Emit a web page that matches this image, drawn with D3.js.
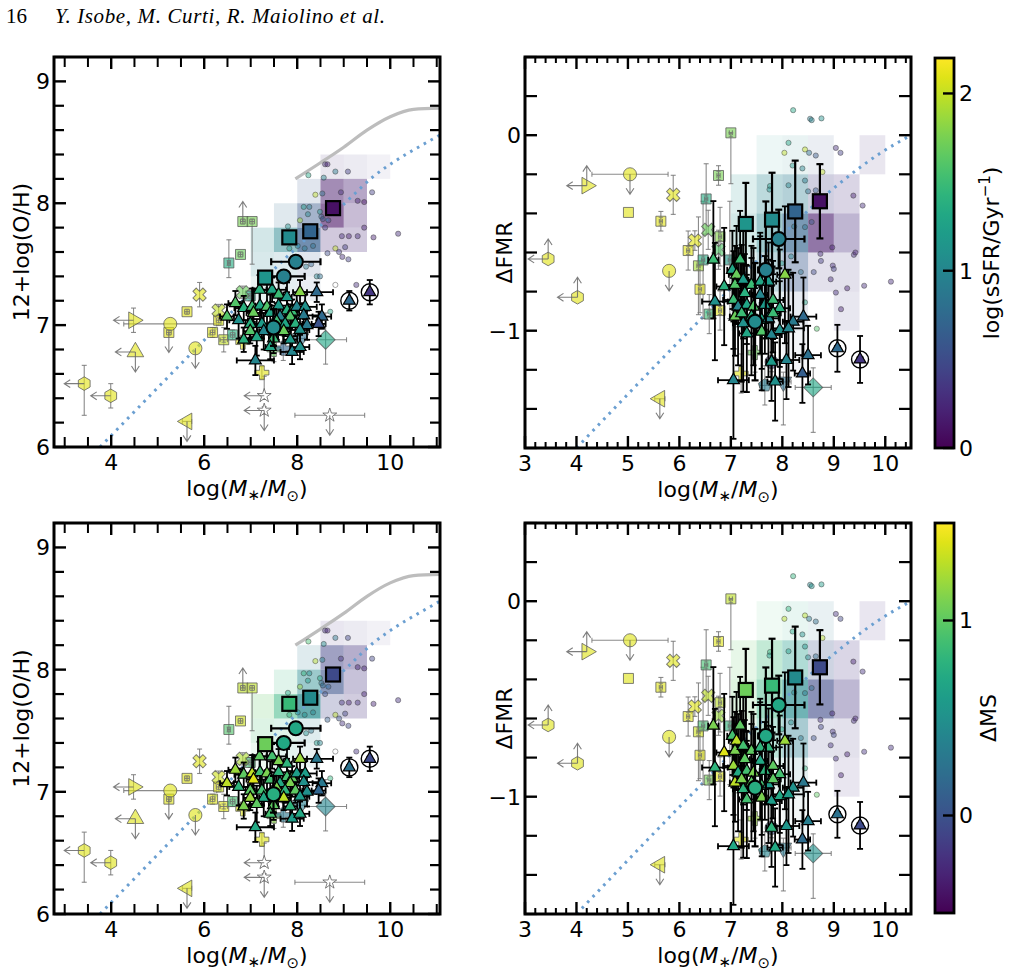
<!DOCTYPE html>
<html><head><meta charset="utf-8">
<script src="https://cdn.jsdelivr.net/npm/d3@7"></script>
<style>body{margin:0;background:#fff}svg{display:block}text{font-family:"DejaVu Sans",sans-serif;fill:#000}text.serif{font-family:"Liberation Serif","Times New Roman",serif}</style>
</head><body><script>
// ---------------- DATA ----------------
// binned background sample (bin size 0.5 dex in mass, 0.2 dex in y)
const metBin_x0=[8.5,9.0,9.5,8.0,8.5,9.0,7.5,8.0,8.5,9.0,7.0,7.5,8.0,8.5,9.0,7.0,7.5,8.0,7.0,7.5,8.0];
const metBin_y0=[8.2,8.2,8.2,8.0,8.0,8.0,7.8,7.8,7.8,7.8,7.6,7.6,7.6,7.6,7.6,7.4,7.4,7.4,7.2,7.2,7.2];
const metBin_a =[.12,.10,.07,.15,.5,.4,.15,.45,.6,.3,.2,.5,.7,.25,.25,.18,.15,.15,.1,.12,.1];
const metBin_cS=[0.3,0.35,0.35,0.6,0.15,0.2,0.75,0.6,0.1,0.2,1.0,1.0,0.65,0.25,0.25,1.0,0.9,0.6,1.0,0.8,0.6];
const metBin_cM=[-0.2,-0.15,-0.15,0.3,-0.1,-0.2,0.8,0.45,0.0,-0.2,1.0,0.8,0.45,-0.1,-0.2,0.9,0.8,0.4,0.9,0.7,0.4];

const fmrBin_x0=[7.5,8.0,8.5,9.5,7.0,7.5,8.0,8.5,9.0,7.0,7.5,8.0,8.5,9.0,7.0,7.5,8.0,8.5,9.0,7.0,7.5,8.0,9.0,8.0];
const fmrBin_y0=[-0.2,-0.2,-0.2,-0.2,-0.4,-0.4,-0.4,-0.4,-0.4,-0.6,-0.6,-0.6,-0.6,-0.6,-0.8,-0.8,-0.8,-0.8,-0.8,-1.0,-1.0,-1.0,-1.0,-1.2];
const fmrBin_a =[.08,.1,.1,.12,.15,.3,.35,.25,.2,.2,.45,.65,.6,.35,.12,.3,.4,.15,.15,.08,.12,.12,.12,.06];
const fmrBin_cS=[1.2,1.0,0.6,0.3,1.1,1.0,0.9,0.4,0.3,1.1,1.0,0.7,0.15,0.3,1.1,0.9,0.6,0.35,0.35,1.1,0.9,0.6,0.35,0.6];
const fmrBin_cM=[0.9,0.7,0.3,-0.2,1.0,0.85,0.6,0.0,-0.2,1.0,0.8,0.45,-0.05,-0.2,1.0,0.7,0.35,-0.1,-0.2,0.9,0.7,0.4,-0.2,0.4];

// relations
const mzr_x=[7.96,8.49,9.0,9.5,10.0,10.5,11.07];
const mzr_y=[8.20,8.33,8.46,8.60,8.71,8.77,8.78];
const metLine_x=[3.76,6.06,7.56,9.05,9.64,10.12,10.65,11.07];
const metLine_y=[6.00,6.90,7.48,8.01,8.22,8.35,8.47,8.56];
const fmrLine_x=[4.0,6.27,8.99,9.54,9.88,10.5];
const fmrLine_y=[-1.6,-0.98,-0.273,-0.159,-0.096,0.0];

// small background galaxies
const metDot_x=[8.60,8.65,8.82,9.09,8.24,8.57,8.39,8.54,8.94,9.30,9.44,9.61,8.14,8.26,8.49,8.52,8.55,8.67,8.60,8.96,9.11,9.30,9.64,10.17,7.80,8.06,8.23,9.44,9.03,8.82,8.65,8.90,8.97,9.10,8.34,7.83,8.01,8.16,8.19,8.30,8.42,8.49,8.82,9.27,8.71];
const metDot_y=[8.32,8.32,8.26,8.26,8.23,8.21,8.07,8.08,8.09,8.02,8.01,8.09,7.97,7.97,7.93,7.89,7.87,7.86,7.80,7.73,7.73,7.73,7.72,7.75,7.81,7.86,7.91,7.80,7.64,7.63,7.59,7.60,7.56,7.54,7.65,7.63,7.65,7.63,7.48,7.50,7.40,7.40,7.33,7.33,7.11];
const metDot_cS=[0.3,0.2,0.9,0.4,1.3,1.0,2.0,0.8,0.3,0.2,0.1,0.4,1.2,0.9,1.1,0.7,0.6,0.5,0.4,0.3,0.2,0.3,0.2,0.3,1.1,1.9,1.0,0.2,0.4,2.0,0.5,0.4,0.3,0.4,0.8,1.2,1.0,0.9,0.9,0.7,1.0,0.8,null,0.3,1.3];
const metDot_cM=[-0.2,-0.3,0.3,-0.1,0.9,0.5,1.3,0.4,-0.2,-0.3,-0.3,-0.1,0.8,0.5,0.7,0.3,0.2,0.1,0.0,-0.2,-0.3,-0.2,-0.3,-0.2,0.7,1.2,0.6,-0.3,-0.1,1.3,0.1,0.0,-0.2,-0.1,0.4,0.8,0.6,0.5,0.5,0.3,0.6,0.4,null,-0.2,0.8];

const fmrDot_x=[8.21,8.54,8.57,8.76,8.12,8.04,8.44,8.52,8.65,9.04,9.13,8.20,8.39,8.78,7.76,8.12,8.44,8.50,8.65,9.38,9.56,8.97,9.39,9.42,8.98,9.00,8.61,8.94,9.26,9.59,10.11,9.14,9.04,8.44,8.67,8.36,8.23,8.44,8.57,7.97,8.17,8.75,8.74,7.99,7.59,7.75,8.12];
const fmrDot_y=[0.128,0.084,0.077,0.086,-0.039,-0.09,-0.073,-0.09,-0.104,-0.065,-0.09,-0.155,-0.17,-0.188,-0.26,-0.256,-0.232,-0.287,-0.282,-0.309,-0.36,-0.574,-0.612,-0.60,-0.667,-0.684,-0.70,-0.737,-0.783,-0.77,-0.749,-0.89,-0.805,-0.855,-0.99,-0.70,-0.467,-0.47,-0.444,-0.555,-0.62,-0.643,-0.607,-0.655,-0.672,-0.278,-0.70];
const fmrDot_cS=[1.3,0.9,1.0,1.1,1.3,2.0,2.0,0.8,0.6,0.3,0.4,1.2,1.0,2.0,1.2,1.0,0.9,0.8,0.6,0.2,0.3,0.2,0.3,0.2,0.3,0.4,0.5,0.3,0.2,0.3,0.3,0.2,0.3,1.3,1.6,0.8,0.9,0.8,0.6,1.1,1.0,0.4,0.3,1.2,1.3,1.1,1.1];
const fmrDot_cM=[0.8,0.4,0.5,0.6,0.8,1.3,1.3,0.3,0.2,-0.2,-0.1,0.7,0.5,1.3,0.8,0.6,0.5,0.4,0.2,-0.3,-0.2,-0.3,-0.2,-0.3,-0.2,-0.1,0.0,-0.2,-0.3,-0.2,-0.2,-0.3,-0.2,0.8,1.0,0.3,0.4,0.3,0.2,0.7,0.5,-0.1,-0.2,0.7,0.8,0.6,0.6];

// literature compilation
const metLit_shape=["square","square","square","square","square","square","square","square","square","square","square","cross","cross","cross","plus","plus","plus","plus","diamond","triD","circle","circle","triR","tri","hexagon","hexagon","triL","star","star","star"];
const metLit_x=[6.83,7.03,6.78,6.53,5.63,6.31,6.18,6.42,6.61,5.24,6.99,5.90,6.31,6.83,6.83,7.24,7.50,7.70,8.61,8.07,5.27,5.81,4.48,4.52,3.42,3.99,5.63,7.29,7.29,8.70];
const metLit_y=[7.85,7.85,7.58,7.51,7.11,7.04,6.94,6.88,6.92,6.94,7.24,7.25,7.12,7.27,6.86,6.61,6.80,6.81,6.88,6.89,7.01,6.81,7.04,6.78,6.52,6.42,6.21,6.42,6.30,6.26];
const metLit_xe=[.05,.05,.05,.03,.05,.05,.05,.08,.05,.05,.05,0,0,0,0,0,0,0,.45,.15,1.0,0,0,0,0,0,.1,0,0,.75];
const metLit_yeLo=[.02,.35,.02,.12,.02,.04,.04,.1,.04,.02,.04,.1,.05,.05,0,.05,.1,.1,.2,.1,0,0,.1,0,.26,.1,0,.03,.03,0];
const metLit_yeHi=[.02,.02,.02,.19,.02,.04,.04,.1,.04,.02,.04,.1,.05,.05,0,.05,.1,.1,.22,.1,0,0,.1,0,.15,.1,0,.16,.03,0];
const metLit_cS=[1.75,1.75,1.7,1.35,2.1,2.1,2.1,2.0,1.4,2.1,1.3,2.1,2.0,1.7,2.1,2.1,1.7,0.7,1.3,0.8,2.1,2.1,2.1,2.1,2.1,2.1,2.1,null,null,null];
const metLit_cM=[1.3,1.3,1.35,0.95,1.4,1.4,1.4,1.4,0.9,1.4,0.9,1.4,1.35,1.25,1.4,1.4,1.15,0.3,0.4,0.35,1.4,1.4,1.4,1.4,1.4,1.4,1.4,null,null,null];
const metLit_lim=["U","","","","","","","","","D","","","","","","","","","","","","D","L","LD","L","L","D","L","LD","D"];

const fmrLit_shape=["triR","circle","cross","square","square","square","square","square","cross","cross","square","square","cross","square","square","square","square","square","square","hexagon","hexagon","circle","triL","plus","plus","diamond","pentagon","triD","circle"];
const fmrLit_x=[4.20,5.04,5.88,5.01,5.64,6.76,7.00,6.52,6.56,6.30,6.17,6.79,6.76,6.37,6.46,6.98,6.40,6.58,6.79,3.45,4.02,5.80,5.62,7.20,7.47,8.60,7.66,8.02,7.79];
const fmrLit_y=[-0.258,-0.20,-0.305,-0.395,-0.44,-0.206,0.012,-0.326,-0.484,-0.539,-0.59,-0.519,-0.586,-0.668,-0.638,-0.638,-0.788,-0.915,-0.897,-0.633,-0.829,-0.694,-1.348,-1.219,-1.112,-1.29,-1.28,-1.262,-1.16];
const fmrLit_xe=[0,.74,0,0,.03,.03,.03,.03,0,0,.03,.03,0,.03,.03,.03,.03,.03,.03,0,0,0,.1,0,0,.35,.1,.15,.05];
const fmrLit_yeLo=[0,0,.1,0,.05,.05,.26,.18,.1,.05,.1,.15,.1,.25,.3,.3,.12,.1,.1,0,0,0,0,.1,.1,.23,.1,.22,.05];
const fmrLit_yeHi=[0,0,.1,0,.05,.05,0,.18,.1,.05,.1,.15,.1,.25,.3,.3,.12,.1,.1,0,0,0,0,.1,.1,.1,.1,.05,.05];
const fmrLit_cS=[2.1,2.1,2.1,2.1,2.1,1.75,1.75,1.35,1.7,2.1,2.1,1.8,1.6,1.9,1.35,1.2,2.1,1.5,2.1,2.1,2.1,2.1,2.1,2.1,1.7,1.3,0.9,0.8,0.4];
const fmrLit_cM=[1.4,1.4,1.4,1.4,1.4,1.4,1.3,0.9,1.3,1.4,1.4,1.3,1.2,1.35,0.9,0.8,1.4,1.1,1.4,1.4,1.4,1.4,1.4,1.4,1.2,0.5,0.4,0.3,0.0];
const fmrLit_lim=["LU","D","","","","","","","","","","","","","","","","","","LU","LU","D","D","","","","","",""];

// JWST galaxies (triangles)
const metTri_x=[7.19,7.46,7.60,7.78,8.06,8.42,6.67,6.85,7.03,7.20,7.35,7.60,7.78,7.89,7.99,8.17,7.06,7.42,7.63,7.85,8.14,8.53,6.74,6.99,7.24,7.56,7.74,7.96,8.21,8.46,6.99,7.28,7.71,8.06,6.85,7.13,7.49,7.85,7.42,7.89,7.10,8.06,6.49];
const metTri_y=[7.29,7.29,7.25,7.23,7.27,7.27,7.18,7.14,7.15,7.16,7.15,7.16,7.12,7.11,7.15,7.15,7.10,7.10,7.07,7.07,7.08,7.07,7.04,7.01,7.01,7.03,7.01,7.01,7.00,7.01,6.95,6.95,6.95,6.96,6.88,6.90,6.89,6.88,6.82,6.78,6.71,6.82,7.07];
const metTri_xe=[.15,.3,.1,.1,.15,.35,.15,.2,.2,.1,.1,.2,.1,.15,.2,.25,.15,.1,.15,.1,.35,.2,.2,.1,.2,.1,.15,.15,.2,.15,.15,.1,.15,.2,.1,.15,.1,.15,.1,.25,.4,.2,.15];
const metTri_ye=[.12,.1,.1,.12,.1,.08,.1,.1,.15,.15,.2,.12,.15,.1,.1,.1,.2,.15,.15,.1,.1,.1,.15,.12,.12,.15,.1,.1,.12,.1,.1,.15,.1,.12,.1,.15,.12,.12,.1,.1,.12,.1,.1];
const metTri_cS=[1.4,1.3,1.5,1.2,1.8,0.75,1.6,1.4,1.5,1.3,1.6,1.2,1.4,1.5,1.0,1.1,1.7,1.3,1.0,1.6,0.9,0.75,1.1,1.4,1.2,1.5,1.3,1.4,0.9,0.55,1.6,1.0,1.7,1.1,1.4,1.3,1.5,1.2,1.3,1.0,1.0,1.1,1.6];
const metTri_cM=[1.0,0.9,1.1,0.8,1.2,0.3,1.2,1.0,1.3,0.9,1.1,0.8,0.9,1.0,0.6,0.6,1.4,0.9,0.7,1.1,0.5,0.3,0.8,1.0,0.9,1.1,0.8,1.0,0.5,0.15,1.2,0.7,1.3,0.6,1.1,1.0,1.0,0.8,0.9,0.6,0.7,0.7,1.3];

const fmrTri_x=[6.66,7.18,7.03,7.11,6.87,7.08,7.24,7.40,7.57,7.73,7.27,7.57,7.82,8.05,6.69,7.05,7.14,7.31,7.44,7.66,7.95,7.08,7.24,7.40,7.60,7.73,7.82,8.21,8.41,7.95,8.12,7.60,7.79,7.31,7.21,8.08,8.50,8.39,7.05,7.86,7.79];
const fmrTri_y=[-0.637,-0.637,-0.689,-0.714,-0.774,-0.766,-0.740,-0.766,-0.749,-0.749,-0.808,-0.817,-0.843,-0.714,-0.851,-0.843,-0.877,-0.868,-0.877,-0.868,-0.885,-0.928,-0.962,-0.928,-0.945,-0.937,-0.911,-0.954,-0.928,-0.997,-0.988,-1.005,-1.022,-1.014,-0.911,-1.15,-1.125,-1.219,-1.253,-1.26,-1.159];
const fmrTri_xe=[.1,.1,.1,.15,.15,.2,.1,.15,.2,.15,.1,.15,.2,.15,.25,.2,.1,.15,.15,.1,.2,.1,.2,.1,.15,.2,.15,.2,.25,.15,.3,.1,.2,.15,.1,.25,.25,.15,.3,.15,.1];
const fmrTri_ye=[.3,.25,.2,.25,.3,.2,.3,.2,.25,.2,.2,.3,.2,.35,.3,.25,.3,.2,.3,.25,.3,.2,.35,.3,.25,.3,.2,.25,.2,.25,.3,.3,.25,.3,.35,.2,.15,.15,.3,.2,.2];
const fmrTri_cS=[1.5,1.5,1.3,1.7,1.4,1.6,1.2,1.5,1.3,1.2,1.4,1.0,1.5,1.8,1.1,1.5,1.0,1.3,1.6,1.2,1.4,1.7,1.1,1.4,1.3,1.0,1.5,0.9,0.75,1.1,1.0,1.6,1.0,1.3,1.5,1.0,0.8,0.65,1.0,1.1,1.2];
const fmrTri_cM=[1.1,1.0,0.9,1.3,1.4,1.1,0.9,1.0,0.8,0.8,1.0,0.7,1.0,1.2,0.8,1.2,0.7,0.9,1.1,0.8,0.9,1.3,0.8,1.0,0.9,0.6,1.0,0.5,0.3,0.7,0.6,1.1,0.6,0.9,1.1,0.55,0.35,0.2,0.7,0.7,0.8];

// circled (AGN-like) objects
const metRing_x=[9.12,9.56], metRing_y=[7.20,7.27], metRing_xe=[.05,.05], metRing_ye=[.08,.1];
const fmrRing_x=[9.07,9.51], fmrRing_y=[-1.09,-1.147], fmrRing_xe=[.05,.05], fmrRing_ye=[.12,.12];
const ring_cS=[0.75,0.35], ring_cM=[0.25,-0.05];

// stacks
const metSq_x=[7.31,7.83,8.28,8.77], metSq_y=[7.39,7.72,7.77,7.96], metSq_xe=[.07,.07,.07,.07], metSq_ye=[.02,.02,.02,.02];
const fmrSq_x=[7.29,7.80,8.25,8.73], fmrSq_y=[-0.454,-0.432,-0.39,-0.338], fmrSq_xe=[.06,.06,.06,.06], fmrSq_ye=[.21,.24,.26,.19];
const sq_cS=[1.15,1.05,0.7,0.1], sq_cM=[1.05,0.85,0.45,-0.05];
const metCi_x=[7.97,7.71,7.49], metCi_y=[7.52,7.40,6.98], metCi_xe=[.53,.45,.12], metCi_ye=[.03,.04,.15];
const fmrCi_x=[7.93,7.68,7.47], fmrCi_y=[-0.531,-0.689,-0.954], fmrCi_xe=[.5,.15,.1], fmrCi_ye=[.15,.35,.3];
const ci_cS=[0.95,0.95,1.05], ci_cM=[0.7,0.7,0.75];

// ticks
const metXMajor=[4,6,8,10], fmrXMajor=[3,4,5,6,7,8,9,10];
const metYMajor=[6,7,8,9], fmrYMajor=[-1,0];
const cbTopTicks=[0,1,2], cbBotTicks=[0,1];

// ---------------- DRAWING ----------------
const BIN_W=0.5, BIN_H=0.2;
const svg=d3.select("body").append("svg").attr("width",1011).attr("height",976);
const cTop=d3.scaleSequential(d3.interpolateViridis).domain([0,2.2]);
const cBot=d3.scaleSequential(d3.interpolateViridis).domain([-0.5,1.5]);

const MET={bin:{x0:metBin_x0,y0:metBin_y0,a:metBin_a,S:metBin_cS,M:metBin_cM},
  dot:{x:metDot_x,y:metDot_y,S:metDot_cS,M:metDot_cM},
  lit:{shape:metLit_shape,x:metLit_x,y:metLit_y,xe:metLit_xe,lo:metLit_yeLo,hi:metLit_yeHi,S:metLit_cS,M:metLit_cM,lim:metLit_lim},
  tri:{x:metTri_x,y:metTri_y,xe:metTri_xe,ye:metTri_ye,S:metTri_cS,M:metTri_cM},
  ring:{x:metRing_x,y:metRing_y,xe:metRing_xe,ye:metRing_ye,S:ring_cS,M:ring_cM},
  sq:{x:metSq_x,y:metSq_y,xe:metSq_xe,ye:metSq_ye,S:sq_cS,M:sq_cM},
  ci:{x:metCi_x,y:metCi_y,xe:metCi_xe,ye:metCi_ye,S:ci_cS,M:ci_cM},
  line:{x:metLine_x,y:metLine_y}, curve:{x:mzr_x,y:mzr_y}};
const FMR={bin:{x0:fmrBin_x0,y0:fmrBin_y0,a:fmrBin_a,S:fmrBin_cS,M:fmrBin_cM},
  dot:{x:fmrDot_x,y:fmrDot_y,S:fmrDot_cS,M:fmrDot_cM},
  lit:{shape:fmrLit_shape,x:fmrLit_x,y:fmrLit_y,xe:fmrLit_xe,lo:fmrLit_yeLo,hi:fmrLit_yeHi,S:fmrLit_cS,M:fmrLit_cM,lim:fmrLit_lim},
  tri:{x:fmrTri_x,y:fmrTri_y,xe:fmrTri_xe,ye:fmrTri_ye,S:fmrTri_cS,M:fmrTri_cM},
  ring:{x:fmrRing_x,y:fmrRing_y,xe:fmrRing_xe,ye:fmrRing_ye,S:ring_cS,M:ring_cM},
  sq:{x:fmrSq_x,y:fmrSq_y,xe:fmrSq_xe,ye:fmrSq_ye,S:sq_cS,M:sq_cM},
  ci:{x:fmrCi_x,y:fmrCi_y,xe:fmrCi_xe,ye:fmrCi_ye,S:ci_cS,M:ci_cM},
  line:{x:fmrLine_x,y:fmrLine_y}, curve:null};

const hexagon={draw(ctx,size){const r=Math.sqrt(size/2.598);for(let i=0;i<6;i++){const a=-Math.PI/2+i*Math.PI/3;const px=r*Math.cos(a),py=r*Math.sin(a);i?ctx.lineTo(px,py):ctx.moveTo(px,py);}ctx.closePath();}};
const pentagon={draw(ctx,size){const r=Math.sqrt(size/2.378);for(let i=0;i<5;i++){const a=-Math.PI/2+i*2*Math.PI/5;const px=r*Math.cos(a),py=r*Math.sin(a);i?ctx.lineTo(px,py):ctx.moveTo(px,py);}ctx.closePath();}};
function sym(s){switch(s){
 case "tri":return [d3.symbolTriangle,0];case "triD":return [d3.symbolTriangle,180];
 case "triL":return [d3.symbolTriangle,-90];case "triR":return [d3.symbolTriangle,90];
 case "square":return [d3.symbolSquare,0];case "diamond":return [d3.symbolSquare,45];
 case "circle":return [d3.symbolCircle,0];case "plus":return [d3.symbolCross,0];
 case "cross":return [d3.symbolCross,45];case "star":return [d3.symbolStar,0];
 case "hexagon":return [hexagon,0];case "pentagon":return [pentagon,0];}}
const litSize={square:100,circle:135,tri:120,triD:120,triL:120,triR:120,hexagon:120,pentagon:110,plus:110,cross:110,diamond:180,star:60};

function seg(g,x1,y1,x2,y2,col,w,op){g.append("line").attr("x1",x1).attr("y1",y1).attr("x2",x2).attr("y2",y2).attr("stroke",col).attr("stroke-width",w).attr("stroke-opacity",op==null?1:op);}
function errbar(g,px,py,xl,xr,yt,yb,col,w,cap,op){
  if(xr-xl>1){seg(g,xl,py,xr,py,col,w,op);seg(g,xl,py-cap,xl,py+cap,col,w,op);seg(g,xr,py-cap,xr,py+cap,col,w,op);}
  if(yb-yt>1){seg(g,px,yt,px,yb,col,w,op);seg(g,px-cap,yt,px+cap,yt,col,w,op);seg(g,px-cap,yb,px+cap,yb,col,w,op);}
}
function arrow(g,px,py,dir){
  const L=20,h=6;let dx=0,dy=0;if(dir==="L")dx=-1;if(dir==="U")dy=-1;if(dir==="D")dy=1;
  const ex=px+dx*L,ey=py+dy*L;
  const p=`M${px},${py}L${ex},${ey}M${ex-dx*h-dy*h*0.65},${ey-dy*h+dx*h*0.65}L${ex},${ey}L${ex-dx*h+dy*h*0.65},${ey-dy*h-dx*h*0.65}`;
  g.append("path").attr("d",p).attr("fill","none").attr("stroke","#666").attr("stroke-width",1.1).attr("stroke-opacity",0.85);
}

const panels=[
 {id:"tl",D:MET,left:54,right:440,top:57,bottom:447,xd:[2.77,11.07],yd:[6,9.2],cs:cTop,ck:"S"},
 {id:"tr",D:FMR,left:525,right:911,top:57,bottom:448,xd:[3,10.5],yd:[-1.6,0.4],cs:cTop,ck:"S"},
 {id:"bl",D:MET,left:54,right:440,top:523,bottom:914,xd:[2.77,11.07],yd:[6,9.2],cs:cBot,ck:"M"},
 {id:"br",D:FMR,left:525,right:911,top:523,bottom:914,xd:[3,10.5],yd:[-1.6,0.4],cs:cBot,ck:"M"}];

panels.forEach(p=>{
  const D=p.D, ck=p.ck;
  const x=d3.scaleLinear().domain(p.xd).range([p.left,p.right]);
  const y=d3.scaleLinear().domain(p.yd).range([p.bottom,p.top]);
  const col=v=>v==null?"#ffffff":p.cs(v);
  svg.append("clipPath").attr("id","clip-"+p.id).append("rect").attr("x",p.left).attr("y",p.top).attr("width",p.right-p.left).attr("height",p.bottom-p.top);
  const g=svg.append("g").attr("clip-path",`url(#clip-${p.id})`);
  // bins
  D.bin.x0.forEach((b,i)=>{const y0=D.bin.y0[i];
    g.append("rect").attr("x",x(b)).attr("y",y(y0+BIN_H)).attr("width",x(b+BIN_W)-x(b)).attr("height",y(y0)-y(y0+BIN_H))
     .attr("fill",col(D.bin[ck][i])).attr("fill-opacity",D.bin.a[i]);});
  // curves
  const ln=d3.line().x(d=>x(d[0])).y(d=>y(d[1])).curve(d3.curveMonotoneX);
  if(D.curve) g.append("path").attr("d",ln(D.curve.x.map((v,i)=>[v,D.curve.y[i]]))).attr("fill","none").attr("stroke","#bdbdbd").attr("stroke-width",3.2);
  g.append("path").attr("d",ln(D.line.x.map((v,i)=>[v,D.line.y[i]]))).attr("fill","none").attr("stroke","#6b9fd1").attr("stroke-width",3).attr("stroke-dasharray","2.6,5.2");
  // small dots
  D.dot.x.forEach((v,i)=>{g.append("circle").attr("cx",x(v)).attr("cy",y(D.dot.y[i])).attr("r",2.6)
     .attr("fill",col(D.dot[ck][i])).attr("fill-opacity",0.45).attr("stroke","#3a3a3a").attr("stroke-opacity",0.5).attr("stroke-width",0.9);});
  // literature
  const L=D.lit;
  L.x.forEach((v,i)=>{const px=x(v),py=y(L.y[i]);
    errbar(g,px,py,x(v-L.xe[i]),x(v+L.xe[i]),y(L.y[i]+L.hi[i]),y(L.y[i]-L.lo[i]),"#777",1.1,2.5,0.85);});
  L.x.forEach((v,i)=>{const px=x(v),py=y(L.y[i]);const [t,r]=sym(L.shape[i]);
    g.append("path").attr("d",d3.symbol().type(t).size(litSize[L.shape[i]])()).attr("transform",`translate(${px},${py}) rotate(${r})`)
     .attr("fill",col(L[ck][i])).attr("fill-opacity",L[ck][i]==null?1:0.62).attr("stroke","#555").attr("stroke-opacity",0.75).attr("stroke-width",1);
    L.lim[i].split("").forEach(d=>arrow(g,px,py,d));});
  L.x.forEach((v,i)=>{const px=x(v),py=y(L.y[i]);
    if(L.shape[i]==="square"){errbar(g,px,py,x(v-L.xe[i]),x(v+L.xe[i]),y(L.y[i]+Math.min(L.hi[i],.02)),y(L.y[i]-Math.min(L.lo[i],.02)),"#777",1,2.2,0.8);}});
  // main sample error bars
  const T=D.tri, R=D.ring;
  [T,R].forEach(S=>S.x.forEach((v,i)=>errbar(g,x(v),y(S.y[i]),x(v-S.xe[i]),x(v+S.xe[i]),y(S.y[i]+S.ye[i]),y(S.y[i]-S.ye[i]),"#000",1.8,3,1)));
  T.x.forEach((v,i)=>{g.append("path").attr("d",d3.symbol().type(d3.symbolTriangle).size(62)()).attr("transform",`translate(${x(v)},${y(T.y[i])})`)
     .attr("fill",col(T[ck][i])).attr("stroke","#000").attr("stroke-width",1.2);});
  R.x.forEach((v,i)=>{g.append("path").attr("d",d3.symbol().type(d3.symbolTriangle).size(62)()).attr("transform",`translate(${x(v)},${y(R.y[i])})`)
     .attr("fill",col(R[ck][i])).attr("stroke","#000").attr("stroke-width",1.2);
     g.append("circle").attr("cx",x(v)).attr("cy",y(R.y[i])).attr("r",8.5).attr("fill","none").attr("stroke","#000").attr("stroke-width",1.4);});
  // stacks
  const C=D.ci, Q=D.sq;
  [C,Q].forEach(S=>S.x.forEach((v,i)=>errbar(g,x(v),y(S.y[i]),x(v-S.xe[i]),x(v+S.xe[i]),y(S.y[i]+S.ye[i]),y(S.y[i]-S.ye[i]),"#000",2.2,3.5,1)));
  C.x.forEach((v,i)=>g.append("circle").attr("cx",x(v)).attr("cy",y(C.y[i])).attr("r",7).attr("fill",col(C[ck][i])).attr("stroke","#000").attr("stroke-width",2));
  Q.x.forEach((v,i)=>g.append("rect").attr("x",x(v)-7).attr("y",y(Q.y[i])-7).attr("width",14).attr("height",14).attr("fill",col(Q[ck][i])).attr("stroke","#000").attr("stroke-width",2.2));

  // axes / ticks
  const ax=svg.append("g");
  const isMet=D===MET;
  const xMaj=isMet?metXMajor:fmrXMajor, yMaj=isMet?metYMajor:fmrYMajor;
  const xMinStep=isMet?0.5:0.2;
  const xMin=d3.range(Math.ceil(p.xd[0]/xMinStep)*xMinStep,p.xd[1]+1e-6,xMinStep).filter(v=>!xMaj.some(m=>Math.abs(m-v)<1e-6));
  const yMin=d3.range(Math.ceil(p.yd[0]/0.2-1e-6)*0.2,p.yd[1]+1e-6,0.2).filter(v=>!yMaj.some(m=>Math.abs(m-v)<1e-6));
  const xMinLen=isMet?10:6;
  xMaj.forEach(v=>{const X=x(v);seg(ax,X,p.bottom,X,p.bottom-12,"#000",2.4);seg(ax,X,p.top,X,p.top+12,"#000",2.4);
    ax.append("text").attr("x",X).attr("y",p.bottom+23).attr("text-anchor","middle").attr("font-size",22).text(v);});
  xMin.forEach(v=>{const X=x(v);seg(ax,X,p.bottom,X,p.bottom-xMinLen,"#000",2);seg(ax,X,p.top,X,p.top+xMinLen,"#000",2);});
  yMaj.forEach(v=>{const Y=y(v);seg(ax,p.left,Y,p.left+12,Y,"#000",2.4);seg(ax,p.right,Y,p.right-12,Y,"#000",2.4);
    ax.append("text").attr("x",p.left-4).attr("y",Y).attr("dy","0.36em").attr("text-anchor","end").attr("font-size",22).text(v<0?"\u2212"+Math.abs(v):v);});
  yMin.forEach(v=>{const Y=y(v);seg(ax,p.left,Y,p.left+(isMet?10:12),Y,"#000",2.2);seg(ax,p.right,Y,p.right-(isMet?10:12),Y,"#000",2.2);});
  ax.append("rect").attr("x",p.left).attr("y",p.top).attr("width",p.right-p.left).attr("height",p.bottom-p.top).attr("fill","none").attr("stroke","#000").attr("stroke-width",3);
  // x label
  const t=ax.append("text").attr("x",(p.left+p.right)/2).attr("y",p.bottom+49).attr("text-anchor","middle").attr("font-size",22);
  t.append("tspan").text("log(");t.append("tspan").attr("font-style","italic").text("M");
  t.append("tspan").attr("font-size",15).attr("dy",4).text("\u2217");t.append("tspan").attr("dy",-4).text("/");
  t.append("tspan").attr("font-style","italic").text("M");t.append("tspan").attr("font-size",15).attr("dy",5).text("\u2299");
  t.append("tspan").attr("dy",-5).text(")");
  // y label
  const cy=(p.top+p.bottom)/2;
  if(isMet) ax.append("text").attr("transform",`translate(29,${cy}) rotate(-90)`).attr("text-anchor","middle").attr("font-size",22).text("12+log(O/H)");
  else ax.append("text").attr("transform",`translate(512,${cy}) rotate(-90)`).attr("text-anchor","middle").attr("font-size",22).text("\u0394FMR");
});

// colorbars
const defs=svg.append("defs");
const grad=defs.append("linearGradient").attr("id","vir").attr("x1",0).attr("y1",1).attr("x2",0).attr("y2",0);
d3.range(0,1.0001,0.05).forEach(s=>grad.append("stop").attr("offset",s).attr("stop-color",d3.interpolateViridis(s)));
function colorbar(top,bottom,scale,ticks,labelFn){
  const cx0=935,cx1=954;
  const yy=d3.scaleLinear().domain(scale.domain()).range([bottom,top]);
  svg.append("rect").attr("x",cx0).attr("y",top).attr("width",cx1-cx0).attr("height",bottom-top).attr("fill","url(#vir)");
  ticks.forEach(v=>{seg(svg,cx1-11,yy(v),cx1,yy(v),"#000",2.4);
    svg.append("text").attr("x",cx1+5).attr("y",yy(v)).attr("dy","0.36em").attr("font-size",22).text(v);});
  svg.append("rect").attr("x",cx0).attr("y",top).attr("width",cx1-cx0).attr("height",bottom-top).attr("fill","none").attr("stroke","#000").attr("stroke-width",2.8);
  labelFn((top+bottom)/2);
}
colorbar(58,448,cTop,cbTopTicks,cy=>{
  const t=svg.append("text").attr("transform",`translate(999,${cy}) rotate(-90)`).attr("text-anchor","middle").attr("font-size",22);
  t.append("tspan").text("log(sSFR/Gyr");t.append("tspan").attr("font-size",15).attr("dy",-9).text("\u22121");
  t.append("tspan").attr("dy",9).text(")");});
colorbar(523,913,cBot,cbBotTicks,cy=>{
  svg.append("text").attr("transform",`translate(996,${cy}) rotate(-90)`).attr("text-anchor","middle").attr("font-size",22).text("\u0394MS");});

// header
svg.append("text").attr("class","serif").attr("x",6).attr("y",23).attr("font-size",21).text("16");
svg.append("text").attr("class","serif").attr("x",55).attr("y",23).attr("font-style","italic").attr("font-size",21)
  .attr("textLength",330).attr("lengthAdjust","spacing").text("Y. Isobe, M. Curti, R. Maiolino et al.");
</script></body></html>
